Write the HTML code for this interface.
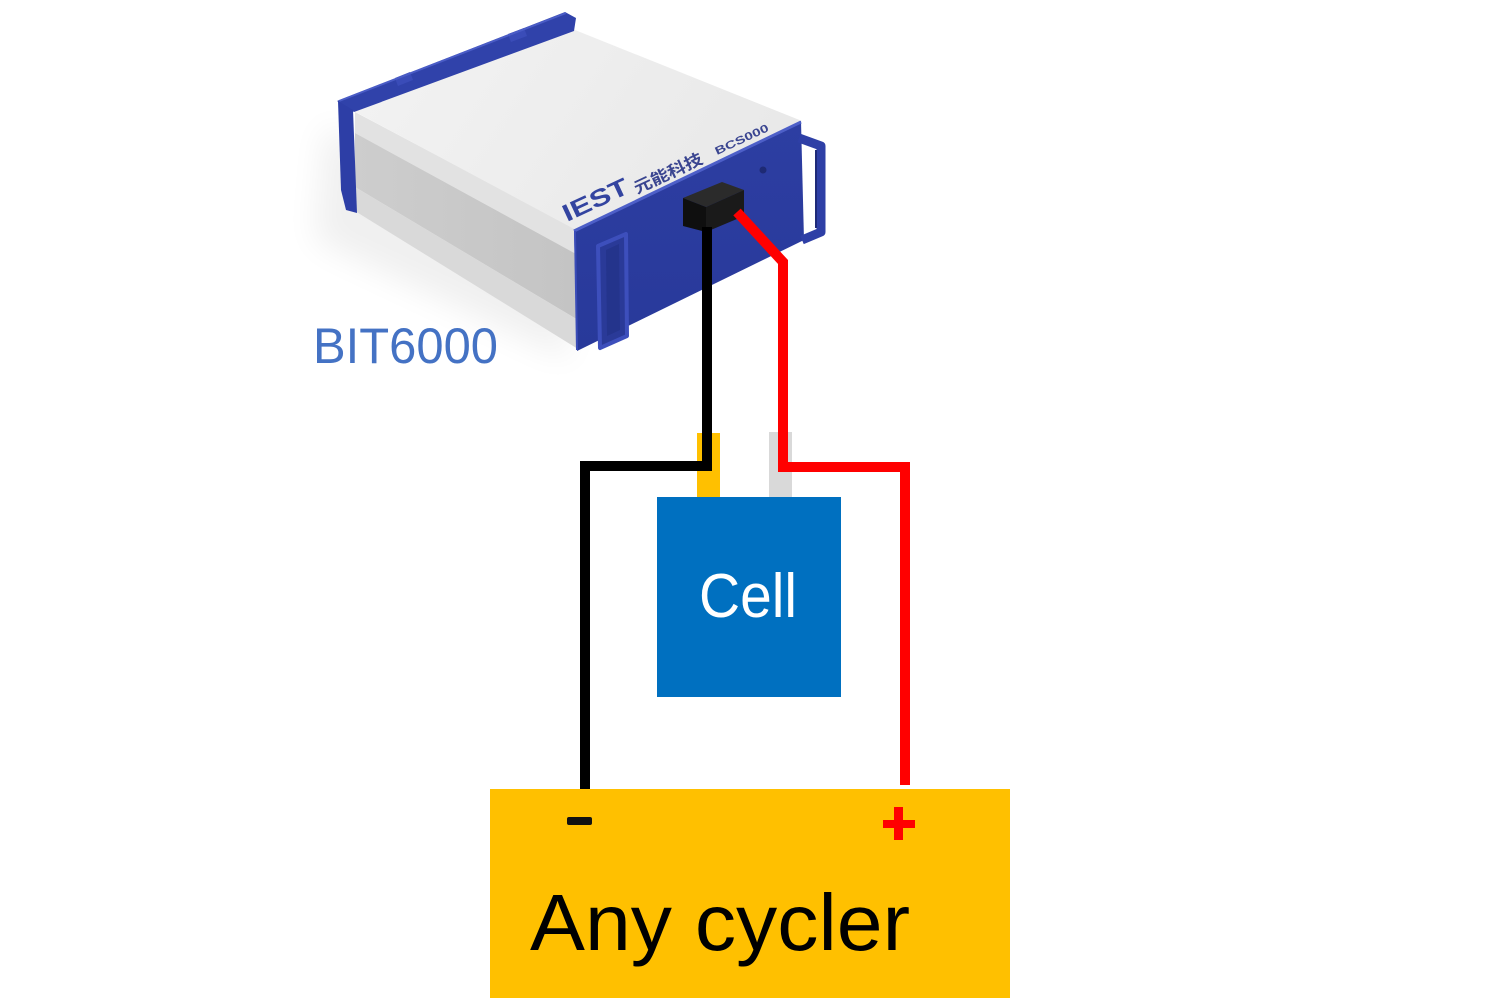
<!DOCTYPE html>
<html>
<head>
<meta charset="utf-8">
<style>
  html,body{margin:0;padding:0;background:#fff;}
  body{width:1500px;height:1000px;overflow:hidden;}
  svg{display:block;}
  text{font-family:"Liberation Sans","Noto Sans CJK SC",sans-serif;}
</style>
</head>
<body>
<svg width="1500" height="1000" viewBox="0 0 1500 1000" xmlns="http://www.w3.org/2000/svg">
  <defs>
    <filter id="blur" x="-50%" y="-50%" width="200%" height="200%">
      <feGaussianBlur stdDeviation="16"/>
    </filter>
    <linearGradient id="topg" x1="0" y1="0" x2="1" y2="0.3">
      <stop offset="0" stop-color="#f3f3f3"/>
      <stop offset="1" stop-color="#e9e9e9"/>
    </linearGradient>
    <linearGradient id="midg" x1="0" y1="0" x2="1" y2="0">
      <stop offset="0" stop-color="#cdcdcd"/>
      <stop offset="1" stop-color="#c4c4c4"/>
    </linearGradient>
    <linearGradient id="frontg" x1="0" y1="0" x2="0" y2="1">
      <stop offset="0" stop-color="#2d3ea2"/>
      <stop offset="1" stop-color="#28399a"/>
    </linearGradient>
  </defs>

  <rect width="1500" height="1000" fill="#ffffff"/>

  <!-- soft shadow of device -->
  <polygon points="325,125 560,245 570,360 315,240" fill="#000" opacity="0.06" filter="url(#blur)"/>

  <!-- side face bands -->
  <polygon points="355,112 578,230 578,255 355,133" fill="#e2e2e2"/>
  <polygon points="355,133 578,255 578,320 355,187" fill="url(#midg)"/>
  <polygon points="355,187 578,320 578,349 355,211" fill="#d9d9d9"/>

  <!-- top face -->
  <polygon points="352,110 570,28 802,121 576,230" fill="url(#topg)"/>

  <!-- back blue frame -->
  <polygon points="337,101 565,12 576,18 574,31 354,112" fill="#3042aa"/>
  <polygon points="338,101 353,110 357,213 346,210 341,190" fill="#2d3ea6"/>
  <polygon points="395,78 410,72 413,80 398,86" fill="#3a4cb8"/>
  <polygon points="508,34 524,28 527,36 511,42" fill="#3a4cb8"/>
  <line x1="339" y1="101" x2="566" y2="13" stroke="#4a5cc6" stroke-width="2"/>

  <!-- logo text on top face -->
  <text x="0" y="0" font-size="24" font-weight="bold" fill="#3344a0" textLength="70" lengthAdjust="spacingAndGlyphs" transform="translate(567,222) rotate(-25)">IEST</text>
  <text x="0" y="0" font-size="16" font-weight="bold" fill="#3a4590" textLength="74" lengthAdjust="spacingAndGlyphs" transform="translate(637,194) rotate(-25)">元能科技</text>
  <text x="0" y="0" font-size="11" font-weight="bold" fill="#3a4590" textLength="58" lengthAdjust="spacingAndGlyphs" transform="translate(717,155) rotate(-25)">BCS000</text>

  <!-- front panel -->
  <polygon points="574,230 801,121 804,240 577,351" fill="url(#frontg)"/>
  <line x1="574" y1="231" x2="801" y2="122" stroke="#4d5fc8" stroke-width="3"/>
  <line x1="575" y1="231" x2="577" y2="350" stroke="#3a4cb8" stroke-width="2"/>
  <!-- right handle -->
  <path d="M799 138 L821 146 L821 232 L802 240" fill="none" stroke="#2e3fa6" stroke-width="9" stroke-linejoin="round"/>
  <path d="M816 150 L816 228" fill="none" stroke="#1e2a78" stroke-width="2"/>
  <!-- left handle on front -->
  <polygon points="598,246 626,234 627,336 600,348" fill="#2a3a98" stroke="#3d4fbc" stroke-width="4" stroke-linejoin="round"/>
  <polygon points="606,250 619,244 620,330 607,336" fill="#24348c"/>
  <!-- screw -->
  <circle cx="763" cy="170" r="3.5" fill="#1e2a74"/>

  <!-- connector -->
  <polygon points="683,198 722,182 744,190 706,207" fill="#2b2b2b"/>
  <polygon points="683,198 706,207 706,232 683,226" fill="#0f0f0f"/>
  <polygon points="706,207 744,190 744,216 706,232" fill="#1a1a1a"/>

  <!-- BIT6000 label -->
  <text x="313" y="363" font-size="50" fill="#4472c4" textLength="185" lengthAdjust="spacingAndGlyphs">BIT6000</text>

  <!-- cell tabs -->
  <rect x="697" y="433" width="23" height="64" fill="#ffc000"/>
  <rect x="769" y="432" width="23" height="65" fill="#d9d9d9"/>

  <!-- cell -->
  <rect x="657" y="497" width="184" height="200" fill="#0070c0"/>
  <text x="699" y="617" font-size="62" fill="#ffffff" textLength="98" lengthAdjust="spacingAndGlyphs">Cell</text>

  <!-- wires -->
  <path d="M707 227 V466 H585 V789" fill="none" stroke="#000000" stroke-width="10" stroke-linejoin="miter"/>
  <path d="M737 212 L783 262 V467 H905 V785" fill="none" stroke="#ff0000" stroke-width="10" stroke-linejoin="miter"/>

  <!-- cycler -->
  <rect x="490" y="789" width="520" height="209" fill="#ffc000"/>
  <rect x="567" y="817" width="25" height="8" rx="2" fill="#111111"/>
  <rect x="883" y="820" width="32" height="8" fill="#ff0000"/>
  <rect x="894" y="807" width="9" height="33" fill="#ff0000"/>
  <text x="530" y="950" font-size="80" fill="#000000" textLength="380" lengthAdjust="spacingAndGlyphs">Any cycler</text>
</svg>
</body>
</html>
